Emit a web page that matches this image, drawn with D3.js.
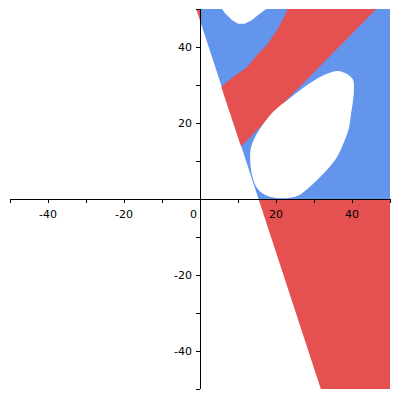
<!DOCTYPE html>
<html>
<head>
<meta charset="utf-8">
<script src="https://cdn.jsdelivr.net/npm/d3@7"></script>
<style>
	body { margin: 0; background: #fff; }
	.axis text { font-family: "DejaVu Sans", sans-serif; font-size: 11px; fill: #000; }
</style>
</head>
<body>
<div id="chart"></div>
<script>
// region outlines, in data units (x, y)
const blueRegion = [[0, 50], [50, 50], [50, 0], [15.4, 0], [0, 47]];
const redTip = [[-1.0, 50], [0, 50], [0, 47]];
const redBand = [
	[23.0, 50], [22.4, 48.4], [20.3, 44.5], [17.6, 40.5], [15.0, 37.9],
	[12.4, 34.7], [8.7, 32.1], [5.6, 29.5], [10.8, 13.9], [46.4, 50]
];
const topNotch = [
	[5.8, 50], [6.6, 48.9], [8.4, 47.1], [10.0, 46.1], [11.8, 46.1],
	[13.7, 47.1], [15.3, 48.4], [17.4, 50]
];
const ellipseHole = [
	[36.1, 33.7], [38.7, 32.9], [40.3, 31.3], [40.5, 28.7], [40.3, 26.1],
	[39.7, 22.1], [39.2, 18.7], [37.9, 15.0], [36.1, 11.1], [33.9, 8.2],
	[31.6, 5.8], [28.9, 3.2], [26.3, 1.1], [23.7, 0.3], [19.7, 0.3],
	[17.1, 1.1], [15.0, 2.9], [13.7, 6.3], [13.2, 10.3], [13.4, 13.4],
	[14.5, 16.3], [16.3, 19.2], [19.2, 22.9], [23.7, 26.6], [28.2, 30.0],
	[32.1, 32.4]
];
const redBottom = [[15.4, 0], [50, 0], [50, -50], [31.8, -50]];

const xTicks = [-50, -40, -30, -20, -10, 0, 10, 20, 30, 40, 50];
const yTicks = [-50, -40, -30, -20, -10, 0, 10, 20, 30, 40, 50];
const xLabels = [-40, -20, 20, 40];
const yLabels = [-40, -20, 20, 40];

const blue = '#6495ed',
	red = '#e55050';

// ----------------------------------
// SVG + SCALES
// ----------------------------------

const width = 400, height = 400;

const svg = d3.select('#chart')
	.append('svg')
	.attr('width', width)
	.attr('height', height);

const xScale = d3.scaleLinear().domain([-50, 50]).range([10, 390]);
const yScale = d3.scaleLinear().domain([-50, 50]).range([389, 9]);

const line = d3.line()
	.x(d => xScale(d[0]))
	.y(d => yScale(d[1]))
	.curve(d3.curveLinearClosed);

// smoother outline for the rounded holes
const smooth = d3.line()
	.x(d => xScale(d[0]))
	.y(d => yScale(d[1]))
	.curve(d3.curveCatmullRomClosed);

// ----------------------------------
// REGIONS (order matters, holes painted white)
// ----------------------------------

const shapes = [
	[blueRegion, blue, line],
	[redTip, red, line],
	[redBand, red, line],
	[topNotch, '#fff', line],
	[ellipseHole, '#fff', smooth],
	[redBottom, red, line]
];

shapes.forEach(([pts, col, gen]) => {
	svg.append('path')
		.attr('d', gen(pts))
		.attr('fill', col)
		.attr('stroke', 'none');
});

// ----------------------------------
// AXES through the origin
// ----------------------------------

const x0 = xScale(0), y0 = yScale(0);

const xAxis = svg.append('g').attr('class', 'axis');
xAxis.append('line')
	.attr('x1', xScale(-50)).attr('x2', xScale(50))
	.attr('y1', y0 + 0.5).attr('y2', y0 + 0.5)
	.attr('stroke', '#000');
xAxis.selectAll('.tick')
	.data(xTicks)
	.join('line')
	.attr('x1', d => Math.round(xScale(d)) + 0.5)
	.attr('x2', d => Math.round(xScale(d)) + 0.5)
	.attr('y1', y0).attr('y2', y0 + 4)
	.attr('stroke', '#000');
xAxis.selectAll('text')
	.data(xLabels)
	.join('text')
	.attr('x', d => xScale(d))
	.attr('y', y0 + 19)
	.attr('text-anchor', 'middle')
	.text(d => d);

const yAxis = svg.append('g').attr('class', 'axis');
yAxis.append('line')
	.attr('x1', x0 + 0.5).attr('x2', x0 + 0.5)
	.attr('y1', yScale(50)).attr('y2', yScale(-50))
	.attr('stroke', '#000');
yAxis.selectAll('.tick')
	.data(yTicks)
	.join('line')
	.attr('x1', x0 - 4).attr('x2', x0)
	.attr('y1', d => Math.round(yScale(d)) + 0.5)
	.attr('y2', d => Math.round(yScale(d)) + 0.5)
	.attr('stroke', '#000');
yAxis.selectAll('text')
	.data(yLabels)
	.join('text')
	.attr('x', x0 - 8)
	.attr('y', d => yScale(d) + 4)
	.attr('text-anchor', 'end')
	.text(d => d);

// single origin label
yAxis.append('text')
	.attr('x', x0 - 3)
	.attr('y', y0 + 19)
	.attr('text-anchor', 'end')
	.text(0);
</script>
</body>
</html>
